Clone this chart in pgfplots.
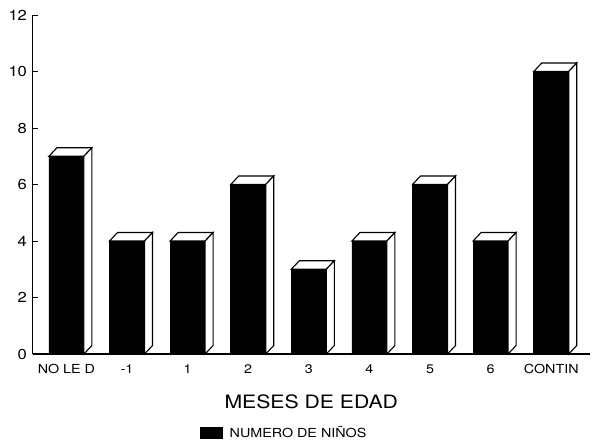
\documentclass[border=0pt]{standalone}
\usepackage{fontspec}
\setmainfont{TeX Gyre Heros}[FakeStretch=1.15]
\usepackage{pgfplots}
\pgfplotsset{compat=1.18}
\usepackage{pgfplotstable}
\pgfplotstableread{
x y
0 7
1 4
2 4
3 6
4 3
5 4
6 6
7 4
8 10
}\datatable
\pgfdeclareplotmark{box3d}{%
  \pgfmathsetlengthmacro\hh{\barval*28.25bp}%
  \pgfpathmoveto{\pgfpoint{-17.5bp}{0pt}}%
  \pgfpathlineto{\pgfpoint{17.5bp}{0pt}}%
  \pgfpathlineto{\pgfpoint{25.5bp}{8.5bp}}%
  \pgfpathlineto{\pgfpoint{-9.5bp}{8.5bp}}%
  \pgfpathclose
  \pgfusepathqfillstroke
  \pgfpathmoveto{\pgfpoint{17.5bp}{0pt}}%
  \pgfpathlineto{\pgfpoint{25.5bp}{8.5bp}}%
  \pgfpathlineto{\pgfpoint{25.5bp}{8.5bp-\hh}}%
  \pgfpathlineto{\pgfpoint{17.5bp}{-\hh}}%
  \pgfpathclose
  \pgfusepathqfillstroke
}
\begin{document}
\begin{tikzpicture}
\path[use as bounding box] (0,0) rectangle (592bp,448bp);
\begin{axis}[
  at={(32.5bp,94bp)}, anchor=south west,
  scale only axis, width=557.5bp, height=339bp,
  xmin=-0.56, xmax=8.64, ymin=0, ymax=12,
  axis x line*=bottom, axis y line*=left,
  axis line style={-, line width=1.1bp},
  xtick={0,...,8},
  xticklabels={NO LE D,-1,1,2,3,4,5,6,CONTIN},
  x tick style={draw=none},
  ytick={0,2,...,12},
  tick align=inside, major tick length=5bp,
  y tick style={line width=0.9bp, black},
  /pgf/number format/assume math mode=true,
  yticklabel style={font=\fontsize{14.5}{16}\selectfont, xshift=-2bp},
  xticklabel style={font=\fontsize{12.5}{15}\selectfont, yshift=-7bp},
  xlabel={MESES DE EDAD},
  xlabel style={at={(axis description cs:0.5,-0.1416)}, anchor=center, font=\fontsize{18.5}{22}\selectfont},
  legend style={at={(axis description cs:0.300,-0.233)}, anchor=west, draw=none, inner sep=0pt, font=\fontsize{12.5}{14}\selectfont},
  legend image code/.code={\fill[black] (0bp,-5.5bp) rectangle (22bp,5.5bp);},
  clip=false,
]
\addplot[ybar, bar width=35bp, bar shift=0pt, fill=black, draw=black, line width=0.8bp]
  table[x=x, y=y] {\datatable};
\addlegendentry{\hspace{5bp}NUMERO DE NIÑOS}
\addplot[scatter, only marks, mark=box3d, forget plot,
  line width=1.1bp,
  visualization depends on={\thisrow{y} \as \barval},
  scatter/use mapped color={draw=black, fill=white}]
  table[x=x, y=y] {\datatable};
\end{axis}
\end{tikzpicture}
\end{document}
